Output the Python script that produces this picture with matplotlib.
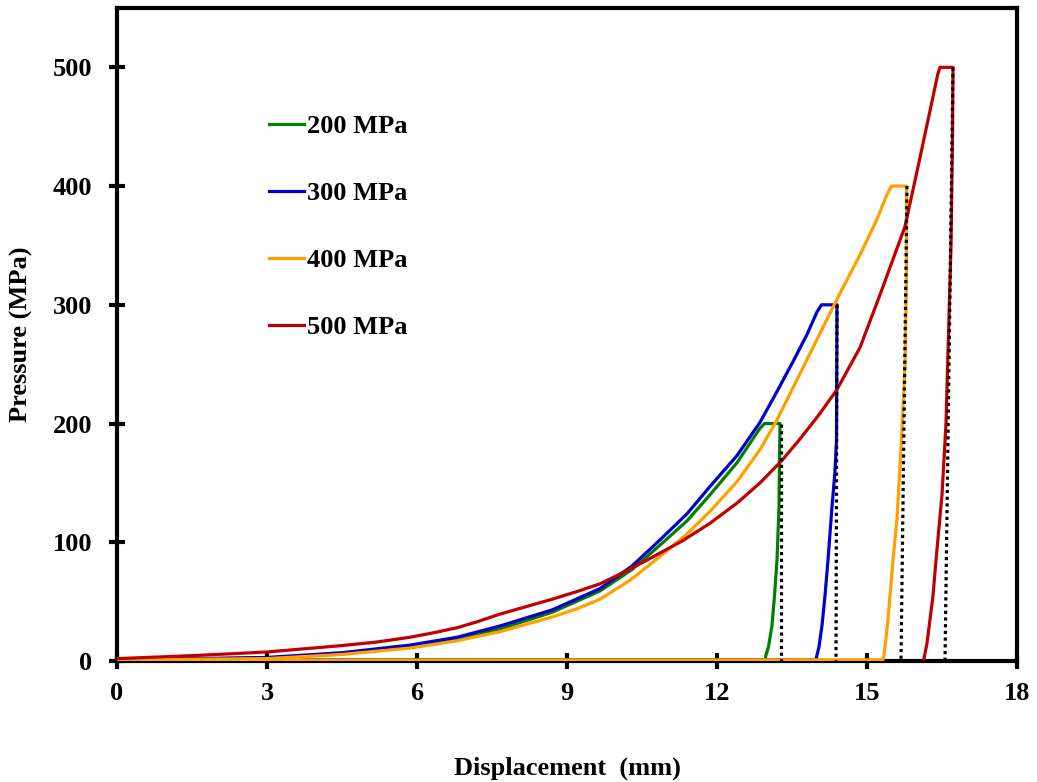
import numpy as np
from matplotlib import pyplot as plt

plt.rcParams['font.family'] = ['Liberation Serif', 'DejaVu Serif']
plt.rcParams['font.weight'] = 'bold'

labels = ['200 MPa', '300 MPa', '400 MPa', '500 MPa']
colors = ['#008000', '#0000D0', '#FFA000', '#C00000']

# loading branch
load_x = [
    [0, 1.5, 3, 4.5, 5.86, 6.8, 7.66, 8.7, 9.66, 10.3, 10.86, 11.4, 11.86, 12.4, 12.86, 12.95, 13.26],
    [0, 1.5, 3, 4.5, 5.86, 6.8, 7.66, 8.7, 9.66, 10.3, 10.86, 11.4, 11.86, 12.4, 12.86, 13.2, 13.53,
     13.8, 14.0, 14.09, 14.4],
    [0, 1.5, 3, 4.5, 5.86, 6.8, 7.66, 8.7, 9.2, 9.66, 10.26, 10.86, 11.4, 11.86, 12.4, 12.86, 13.2, 13.53,
     13.86, 14.19, 14.5, 14.86, 15.2, 15.4, 15.49, 15.79],
    [0, 1.5, 3, 4.5, 5.2, 5.86, 6.3, 6.8, 7.2, 7.66, 8.2, 8.7, 9.2, 9.66, 10.1, 10.6, 11.3, 11.86,
     12.4, 12.86, 13.3, 13.66, 14.05, 14.39, 14.86, 15.3, 15.76, 16.06, 16.42, 16.46, 16.72],
]
load_y = [
    [1, 1.8, 2.5, 6, 12.5, 19, 27, 41, 59, 77, 97.6, 118, 140, 167, 196, 200, 200],
    [1.5, 2, 3, 7, 13.4, 20, 29.5, 43, 61, 80, 102, 124, 147, 173, 201, 227, 253,
     275, 294, 300, 300],
    [1, 1.5, 2, 5.5, 10.9, 17, 24.7, 37, 44, 52, 68, 88, 107, 126, 151, 178, 203, 231,
     259, 287, 313, 342, 372, 393, 400, 400],
    [2, 4.5, 7.6, 13, 16, 20, 23.5, 28, 33, 39.5, 46, 52, 58.5, 65, 74, 85, 101, 116,
     133, 150, 169, 187, 208, 228, 264, 313, 366, 424, 495, 500, 500],
]

# unloading branch
unload_x = [
    [13.25, 13.24, 13.2, 13.15, 13.1, 13.03, 12.98, 12.96],
    [14.39, 14.36, 14.3, 14.22, 14.16, 14.1, 14.04, 14.0, 13.98],
    [15.79, 15.78, 15.76, 15.69, 15.6, 15.52, 15.46, 15.42, 15.37, 15.34, 15.32],
    [16.71, 16.68, 16.62, 16.58, 16.5, 16.38, 16.32, 16.26, 16.2, 16.14],
]
unload_y = [
    [170, 130, 85, 55, 30, 12, 5, 1],
    [186, 160, 130, 85, 55, 30, 12, 5, 1],
    [330, 300, 250, 186, 120, 85, 55, 35, 15, 5, 1],
    [440, 350, 260, 200, 140, 85, 55, 35, 15, 2],
]
returns = [True, True, True, False]

# ideal unloading (dotted): top point and bottom point
dot_x = [[13.27, 13.27], [14.4, 14.38], [15.8, 15.68], [16.72, 16.56]]
dot_y = [[200, 0], [300, 0], [400, 0], [500, 0]]

xticks = [0, 3, 6, 9, 12, 15, 18]
yticks = [0, 100, 200, 300, 400, 500]

fig = plt.figure(figsize=(10.37, 7.82), dpi=100)
ax = fig.add_axes([117/1037, 121/782, 900/1037, 653/782])

for i in range(4):
    xs = load_x[i] + unload_x[i]
    ys = load_y[i] + unload_y[i]
    if returns[i]:
        xs = xs + [0]
        ys = ys + [0.8]
    ax.plot(xs, ys, color=colors[i], linewidth=2.3, label=labels[i],
            solid_joinstyle='round', zorder=3)

for i in range(4):
    ax.plot(dot_x[i], dot_y[i], color='black', linewidth=2.3,
            dashes=(1, 1.1), zorder=4)

ax.set_xlim(0, 18)
ax.set_ylim(0, 550)
ax.set_xticks(xticks)
ax.set_yticks(yticks)
ax.tick_params(direction='inout', length=12, width=3, labelsize=19)
ax.tick_params(axis='x', pad=9)
ax.tick_params(axis='y', pad=12)
for s in ax.spines.values():
    s.set_linewidth(3)
    s.set_zorder(2)

ax.set_xlabel('Displacement  (mm)', fontsize=19, fontweight='bold', labelpad=37)
ax.set_ylabel('Pressure (MPa)', fontsize=19, fontweight='bold', labelpad=14)

ax.legend(loc='upper left', bbox_to_anchor=(0.157, 0.853), frameon=False,
          fontsize=19, handlelength=1.35, handletextpad=0.1,
          labelspacing=1.65, borderaxespad=0)

fig.savefig('out.png', dpi=100)
